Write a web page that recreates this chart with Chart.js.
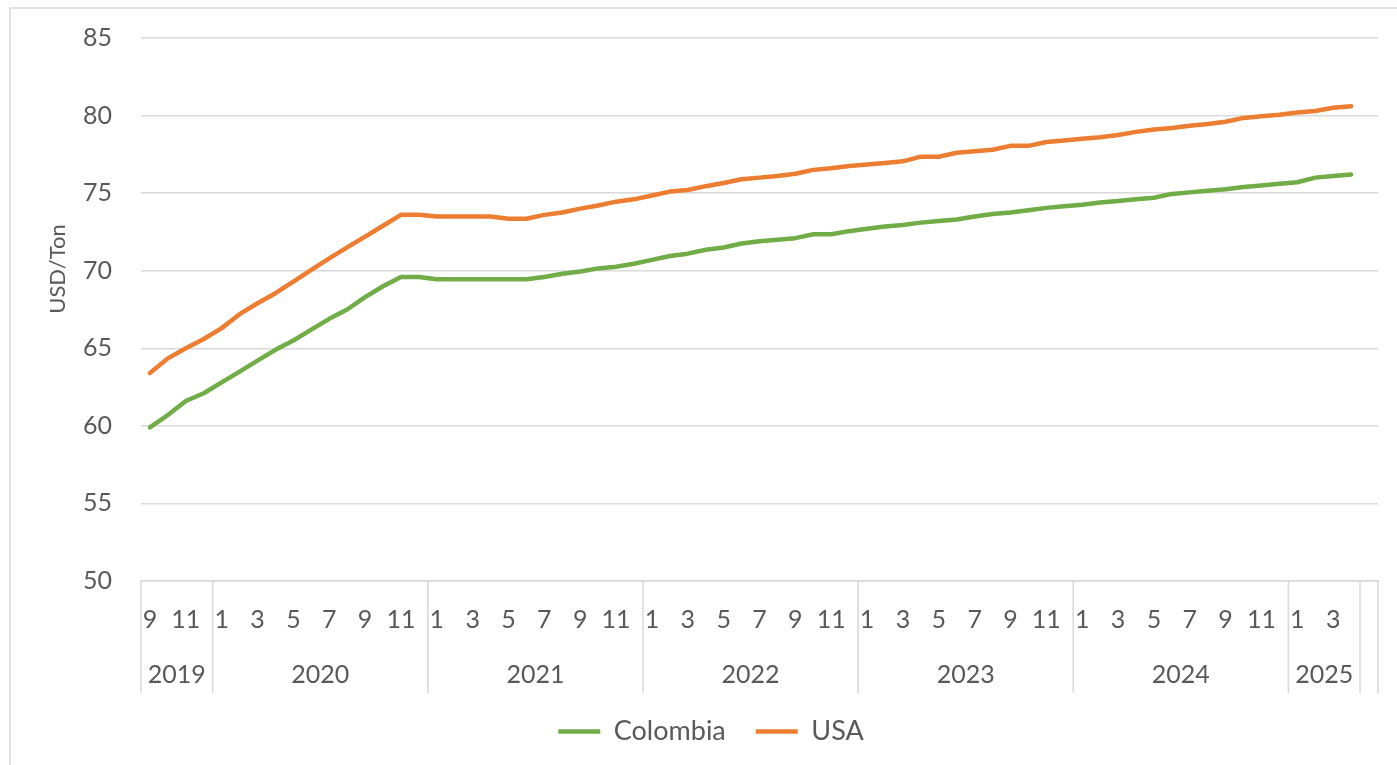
<!DOCTYPE html>
<html lang="en">
<head>
<meta charset="utf-8">
<title>Colombia / USA — USD/Ton</title>
<script src="https://cdn.jsdelivr.net/npm/chart.js@4.4.1/dist/chart.umd.min.js"></script>
<style>
    html, body { margin: 0; padding: 0; background: #fff; }
    #chart { display: block; }
</style>
</head>
<body>
<canvas id="chart" width="1397" height="765"></canvas>
<script>
(function () {
    'use strict';

    // --- Data ---

    // Year groups on the category axis (monthly series, Sep 2019 -> Apr 2025)
    const years = ['2019', '2020', '2021', '2022', '2023', '2024', '2025'];
    const yearFirstMonth = [9, 1, 1, 1, 1, 1, 1];
    const yearMonthCount = [4, 12, 12, 12, 12, 12, 4];

    // USD/Ton, one value per month
    const colombia = [
        59.9, 60.7, 61.6, 62.1,                                                 // 2019
        62.8, 63.5, 64.2, 64.9, 65.5, 66.2, 66.9, 67.5, 68.3, 69.0, 69.6, 69.6, // 2020
        69.45, 69.45, 69.45, 69.45, 69.45, 69.45, 69.6, 69.8, 69.95, 70.15, 70.25, 70.45, // 2021
        70.7, 70.95, 71.1, 71.35, 71.5, 71.75, 71.9, 72.0, 72.1, 72.35, 72.35, 72.55,     // 2022
        72.7, 72.85, 72.95, 73.1, 73.2, 73.3, 73.5, 73.65, 73.75, 73.9, 74.05, 74.15,     // 2023
        74.25, 74.4, 74.5, 74.6, 74.7, 74.95, 75.05, 75.15, 75.25, 75.4, 75.5, 75.6,      // 2024
        75.7, 76.0, 76.1, 76.2                                                  // 2025
    ];
    const usa = [
        63.4, 64.35, 65.0, 65.6,                                                // 2019
        66.3, 67.2, 67.9, 68.55, 69.3, 70.05, 70.8, 71.5, 72.2, 72.9, 73.6, 73.6, // 2020
        73.5, 73.5, 73.5, 73.5, 73.35, 73.35, 73.6, 73.75, 74.0, 74.2, 74.45, 74.6,       // 2021
        74.85, 75.1, 75.2, 75.45, 75.65, 75.9, 76.0, 76.1, 76.25, 76.5, 76.6, 76.75,      // 2022
        76.85, 76.95, 77.05, 77.35, 77.35, 77.6, 77.7, 77.8, 78.05, 78.05, 78.3, 78.4,    // 2023
        78.5, 78.6, 78.75, 78.95, 79.1, 79.2, 79.35, 79.45, 79.6, 79.85, 79.95, 80.05,    // 2024
        80.2, 80.3, 80.5, 80.6                                                  // 2025
    ];

    const yMin = 50;
    const yMax = 85;
    const yStep = 5;

    // --- Style ---

    const GRID = '#d9d9d9';
    const TEXT = '#595959';
    const FONT = 'Lato, "Open Sans", sans-serif';

    // Month categories, plus one empty slot at the end of the axis
    const months = [];
    years.forEach((year, k) => {
        for (let m = 0; m < yearMonthCount[k]; m++) {
            months.push(yearFirstMonth[k] + m);
        }
    });
    months.push('');

    // Frame, year separators under the axis, year labels and the y title
    const yearGroups = {
        id: 'yearGroups',
        beforeDraw(chart) {
            const ctx = chart.ctx;
            ctx.save();
            ctx.strokeStyle = GRID;
            ctx.lineWidth = 1.5;
            ctx.strokeRect(10, 8, chart.width + 20, chart.height + 20);
            ctx.restore();
        },
        afterDraw(chart) {
            const x = chart.scales.x;
            const ctx = chart.ctx;
            const top = chart.chartArea.bottom;
            const bottom = top + 112;

            ctx.save();
            ctx.strokeStyle = GRID;
            ctx.lineWidth = 1.5;
            const separator = (px) => {
                ctx.beginPath();
                ctx.moveTo(px, top);
                ctx.lineTo(px, bottom);
                ctx.stroke();
            };

            ctx.fillStyle = TEXT;
            ctx.font = '25px ' + FONT;
            ctx.textAlign = 'center';
            ctx.textBaseline = 'middle';

            let start = 0;
            years.forEach((year, k) => {
                const end = start + yearMonthCount[k];
                separator(x.getPixelForValue(start - 0.5));
                ctx.fillText(year, x.getPixelForValue((start + end - 1) / 2), top + 94);
                start = end;
            });
            separator(x.getPixelForValue(start - 0.5));
            separator(x.getPixelForValue(months.length - 0.5));

            // Axis title
            ctx.font = '22px ' + FONT;
            ctx.translate(58, 269);
            ctx.rotate(-Math.PI / 2);
            ctx.fillText('USD/Ton', 0, 0);
            ctx.restore();
        }
    };

    function series(label, data, color) {
        return {
            label: label,
            data: data,
            borderColor: color,
            backgroundColor: color,
            borderWidth: 4.5,
            borderCapStyle: 'round',
            borderJoinStyle: 'round',
            pointRadius: 0,
            pointHoverRadius: 0,
            tension: 0,
            fill: false
        };
    }

    new Chart(document.getElementById('chart'), {
        type: 'line',
        data: {
            labels: months,
            datasets: [
                series('Colombia', colombia, '#70ad47'),
                series('USA', usa, '#ed7d31')
            ]
        },
        options: {
            responsive: false,
            animation: false,
            // left padding only recentres the legend; the y axis width makes up the rest
            layout: { padding: { top: 38, right: 19, bottom: 10, left: 44 } },
            plugins: {
                tooltip: { enabled: false },
                legend: {
                    position: 'bottom',
                    labels: {
                        usePointStyle: true,
                        pointStyle: 'line',
                        pointStyleWidth: 42,
                        padding: 30,
                        color: TEXT,
                        font: { family: FONT, size: 27 }
                    }
                }
            },
            scales: {
                x: {
                    offset: true,
                    grid: { display: true, drawOnChartArea: false, drawTicks: false },
                    border: { display: true, color: GRID, width: 1.5 },
                    ticks: {
                        autoSkip: false,
                        maxRotation: 0,
                        minRotation: 0,
                        padding: 24,
                        color: TEXT,
                        font: { family: FONT, size: 25 },
                        callback: (value, index) => {
                            const m = months[index];
                            return (m !== '' && m % 2 === 1) ? String(m) : '';
                        }
                    },
                    afterFit(scale) { scale.height = 107; }
                },
                y: {
                    min: yMin,
                    max: yMax,
                    ticks: {
                        stepSize: yStep,
                        padding: 0,
                        color: TEXT,
                        font: { family: FONT, size: 25 }
                    },
                    // invisible tick marks keep the labels clear of the plot
                    grid: { color: GRID, lineWidth: 1.5, tickLength: 29, tickColor: 'rgba(0,0,0,0)' },
                    border: { display: false },
                    afterFit(scale) { scale.width = 97; }
                }
            }
        },
        plugins: [yearGroups]
    });
})();
</script>
</body>
</html>
